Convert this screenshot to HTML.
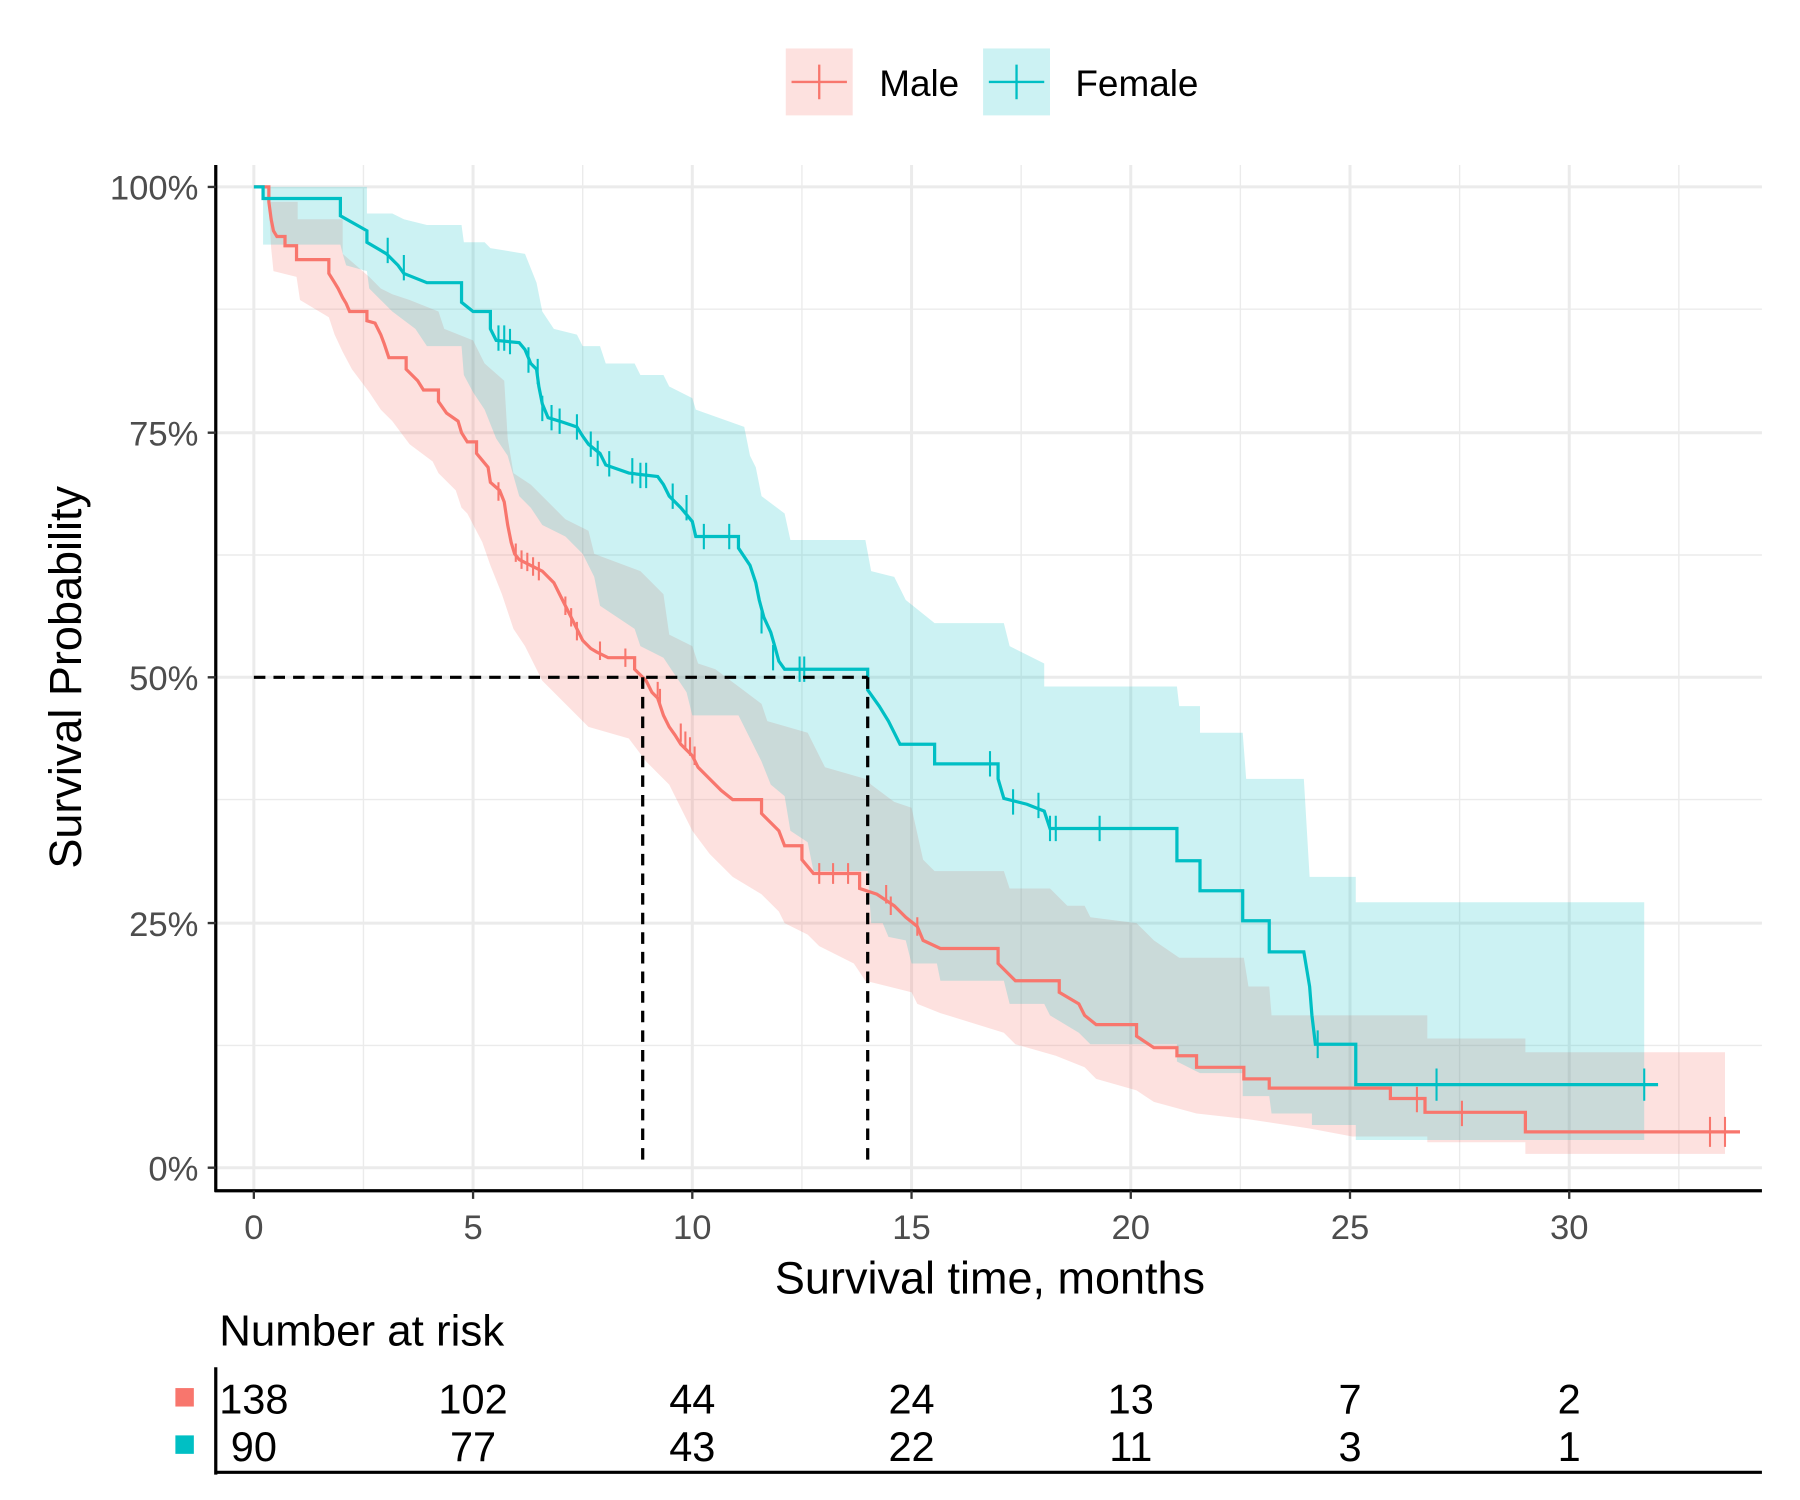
<!DOCTYPE html>
<html><head><style>html,body{margin:0;padding:0;background:#fff}svg{display:block}</style></head>
<body>
<svg width="1800" height="1500" viewBox="0 0 1560 1300" xmlns="http://www.w3.org/2000/svg" font-family="Liberation Sans, sans-serif">
<rect width="1560" height="1300" fill="#fff"/>
<!-- grid -->
<g stroke="#EBEBEB" stroke-width="1.2">
<line x1="187" x2="1527" y1="268" y2="268"/><line x1="187" x2="1527" y1="481" y2="481"/><line x1="187" x2="1527" y1="693" y2="693"/><line x1="187" x2="1527" y1="906" y2="906"/>
<line x1="315" x2="315" y1="143" y2="1032"/><line x1="505" x2="505" y1="143" y2="1032"/><line x1="695" x2="695" y1="143" y2="1032"/><line x1="885" x2="885" y1="143" y2="1032"/><line x1="1075" x2="1075" y1="143" y2="1032"/><line x1="1265" x2="1265" y1="143" y2="1032"/><line x1="1455" x2="1455" y1="143" y2="1032"/>
</g>
<g stroke="#EBEBEB" stroke-width="2.6">
<line x1="187" x2="1527" y1="162" y2="162"/><line x1="187" x2="1527" y1="375" y2="375"/><line x1="187" x2="1527" y1="587" y2="587"/><line x1="187" x2="1527" y1="800" y2="800"/><line x1="187" x2="1527" y1="1012" y2="1012"/>
<line x1="220" x2="220" y1="143" y2="1032"/><line x1="410" x2="410" y1="143" y2="1032"/><line x1="600" x2="600" y1="143" y2="1032"/><line x1="790" x2="790" y1="143" y2="1032"/><line x1="980" x2="980" y1="143" y2="1032"/><line x1="1170" x2="1170" y1="143" y2="1032"/><line x1="1360" x2="1360" y1="143" y2="1032"/>
</g>
<!-- CI bands -->
<polygon fill="#F8766D" fill-opacity="0.22" points="233,162 233,175 258,175 258,190 297,190 297,220 320,240 330,250 340,255 355,260 380,270 385,285 410,295 420,315 437,330 440,380 445,410 460,420 490,450 510,460 515,480 555,495 575,515 580,550 600,560 605,575 620,580 640,595 660,610 665,625 700,635 715,665 750,675 755,680 775,695 790,700 800,745 810,755 870,755 875,770 910,770 925,785 940,785 945,795 985,800 1000,815 1022,830 1078,830 1082,855 1100,855 1102,880 1237,880 1237,900 1322,900 1322,912 1495,912 1495,1000 1322,1000 1322,990 1237,990 1237,985 1172,985 1135,978 1082,970 1037,965 1000,955 985,945 950,935 940,925 915,915 880,905 870,895 815,878 795,870 790,860 750,850 740,835 710,820 700,810 680,800 675,790 660,775 635,760 625,750 615,740 600,720 590,700 580,680 560,660 545,640 510,630 480,600 470,590 455,560 445,545 435,515 425,490 418,470 405,445 400,440 395,425 380,410 375,400 355,385 340,365 330,355 320,340 305,320 297,305 290,290 285,275 260,260 257,240 237,235 235,215 233,180"/>
<polygon fill="#00BFC4" fill-opacity="0.2" points="228,162 318,162 318,185 340,185 350,190 370,195 400,195 402,210 420,210 425,215 455,220 465,245 470,270 480,285 500,290 505,300 520,300 525,315 550,315 555,325 575,325 580,335 600,345 603,355 645,370 650,395 655,405 660,430 680,445 685,468 750,468 755,495 775,500 785,520 810,540 870,540 875,560 905,575 905,595 1020,595 1022,612 1040,612 1040,635 1077,635 1080,675 1130,675 1135,760 1175,760 1175,782 1425,782 1425,988 1175,988 1175,975 1137,975 1137,965 1102,965 1100,950 1077,950 1077,930 1040,930 1020,920 1020,905 945,905 935,895 910,880 905,870 875,870 870,850 815,850 812,835 790,835 785,815 770,812 765,800 755,800 752,755 705,755 700,730 685,720 680,690 668,680 660,660 655,650 645,630 640,620 600,620 595,600 585,585 575,570 555,560 550,545 520,525 515,500 505,480 490,465 470,455 460,440 450,430 440,395 430,380 420,355 410,340 402,325 400,300 370,300 360,285 340,270 320,250 318,235 300,230 297,220 295,212 228,212 228,175"/>
<!-- Male curve -->
<path fill="none" stroke="#F8766D" stroke-width="2.8" d="M220,162 H233 V175 L235,190 L237,200 L240,205 H247 V213 H257 V225 H285 V237 L290,245 L293,250 L297,258 L300,263 L303,270 H318 V278 L325,280 L330,290 L333,298 L337,310 H352 V320 L362,330 L367,338 H380 V348 L387,358 L397,365 L400,375 L405,383 H413 V393 L423,405 L425,418 L433,425 L437,435 L440,455 L443,470 L446,480 L450,485 L460,490 L470,495 L480,505 L485,515 L490,525 L495,535 L500,545 L505,555 L512,562 L517,565 L527,570 H550 V580 L560,590 L565,600 L570,605 L575,620 L580,630 L585,637 L590,645 L600,655 L605,665 L615,675 L625,685 L635,693 H660 V705 L675,720 L680,733 H695 V745 L705,757 H745 V770 L760,775 L775,785 L785,795 L795,803 L800,815 L815,822 H865 V835 L880,850 H918 V860 L935,870 L940,880 L950,888 H985 V898 L1000,908 H1020 V915 H1037 V925 H1078 V935 H1100 V943 H1205 V952 H1235 V964 H1322 V981 H1508"/>
<g stroke="#F8766D" stroke-width="1.8">
<path d="M432,418v16M447,471v16M452,477v16M457,479v16M462,483v16M467,487v16M490,517v16M495,527v16M500,539v16M520,556v16M542,562v16M570,591v16M572,597v16M590,627v16M594,634v16M598,639v16M602,647v16M710,748v18M722,748v18M735,748v18M768,767v16M772,777v16M795,795v16M1228,942v22M1267,954v22M1482,968v26M1495,968v26"/>
</g>
<!-- Female curve -->
<path fill="none" stroke="#00BFC4" stroke-width="2.8" d="M220,162 H228 V172 H295 V187 L318,200 V210 L335,220 L345,230 L350,237 L370,245 H400 V262 L410,270 H425 V285 L430,295 L450,297 L455,303 L460,315 L465,320 L467,335 L470,350 L475,362 L485,365 L500,370 L505,378 L510,385 L520,393 L525,403 L545,410 L570,413 L575,420 L580,430 L590,440 L600,452 L603,465 H640 V475 L650,490 L655,505 L658,520 L662,535 L668,548 L672,562 L675,573 L680,580 H752 V598 L762,612 L770,625 L775,635 L780,645 H810 V662 H865 V675 L870,692 L890,697 L905,703 L910,718 H1020 V746 H1040 V772 H1077 V798 H1100 V825 H1130 L1135,855 L1137,880 L1140,905 H1175 V940 H1437"/>
<g stroke="#00BFC4" stroke-width="1.8">
<path d="M336,206v22M350,221v22M432,282v22M437,282v22M442,285v22M458,301v22M466,311v22M470,343v22M478,351v22M485,354v22M500,359v22M512,374v22M518,382v22M528,391v22M548,397v22M555,401v22M560,401v22M583,419v22M595,429v22M610,454v22M632,454v22M660,527v22M670,559v22M693,569v22M697,569v22M858,651v22M878,684v22M900,687v22M910,707v22M915,707v22M953,707v22M1142,893v24M1245,926v28M1425,926v28"/>
</g>
<!-- dashed median lines -->
<g stroke="#000" stroke-width="2.8" stroke-dasharray="10,7" fill="none">
<path d="M220,587 H752 M557,587 V1012 M752,587 V1012"/>
</g>
<!-- axes -->
<g stroke="#000" stroke-width="2.8">
<line x1="187" y1="143" x2="187" y2="1033"/><line x1="186" y1="1032" x2="1527" y2="1032"/>
</g>
<g stroke="#333" stroke-width="2">
<path d="M180,162h7M180,375h7M180,587h7M180,800h7M180,1012h7M220,1032v7M410,1032v7M600,1032v7M790,1032v7M980,1032v7M1170,1032v7M1360,1032v7"/>
</g>
<g fill="#4D4D4D" font-size="30" text-anchor="end">
<text x="172" y="173">100%</text><text x="172" y="386">75%</text><text x="172" y="598">50%</text><text x="172" y="811">25%</text><text x="172" y="1023">0%</text>
</g>
<g fill="#4D4D4D" font-size="30" text-anchor="middle">
<text x="220" y="1074">0</text><text x="410" y="1074">5</text><text x="600" y="1074">10</text><text x="790" y="1074">15</text><text x="980" y="1074">20</text><text x="1170" y="1074">25</text><text x="1360" y="1074">30</text>
</g>
<text x="858" y="1121" font-size="39" text-anchor="middle" fill="#000">Survival time, months</text>
<text transform="translate(70,587) rotate(-90)" font-size="39" text-anchor="middle" fill="#000">Survival Probability</text>
<!-- legend -->
<rect x="681" y="42" width="58" height="58" fill="#F8766D" fill-opacity="0.22"/>
<path d="M686,71h48M710,56v30" stroke="#F8766D" stroke-width="2"/>
<text x="762" y="83" font-size="32">Male</text>
<rect x="852" y="42" width="58" height="58" fill="#00BFC4" fill-opacity="0.2"/>
<path d="M857,71h48M881,56v30" stroke="#00BFC4" stroke-width="2"/>
<text x="932" y="83" font-size="32">Female</text>
<!-- risk table -->
<text x="190" y="1166" font-size="38">Number at risk</text>
<line x1="187" y1="1185" x2="187" y2="1278" stroke="#000" stroke-width="2.8"/>
<line x1="186" y1="1276" x2="1527" y2="1276" stroke="#000" stroke-width="2.8"/>
<rect x="152" y="1203" width="16" height="16" fill="#F8766D"/>
<rect x="152" y="1244" width="16" height="16" fill="#00BFC4"/>
<g font-size="36" text-anchor="middle" fill="#000">
<text x="220" y="1225">138</text><text x="410" y="1225">102</text><text x="600" y="1225">44</text><text x="790" y="1225">24</text><text x="980" y="1225">13</text><text x="1170" y="1225">7</text><text x="1360" y="1225">2</text>
<text x="220" y="1266">90</text><text x="410" y="1266">77</text><text x="600" y="1266">43</text><text x="790" y="1266">22</text><text x="980" y="1266">11</text><text x="1170" y="1266">3</text><text x="1360" y="1266">1</text>
</g>
</svg>
</body></html>
